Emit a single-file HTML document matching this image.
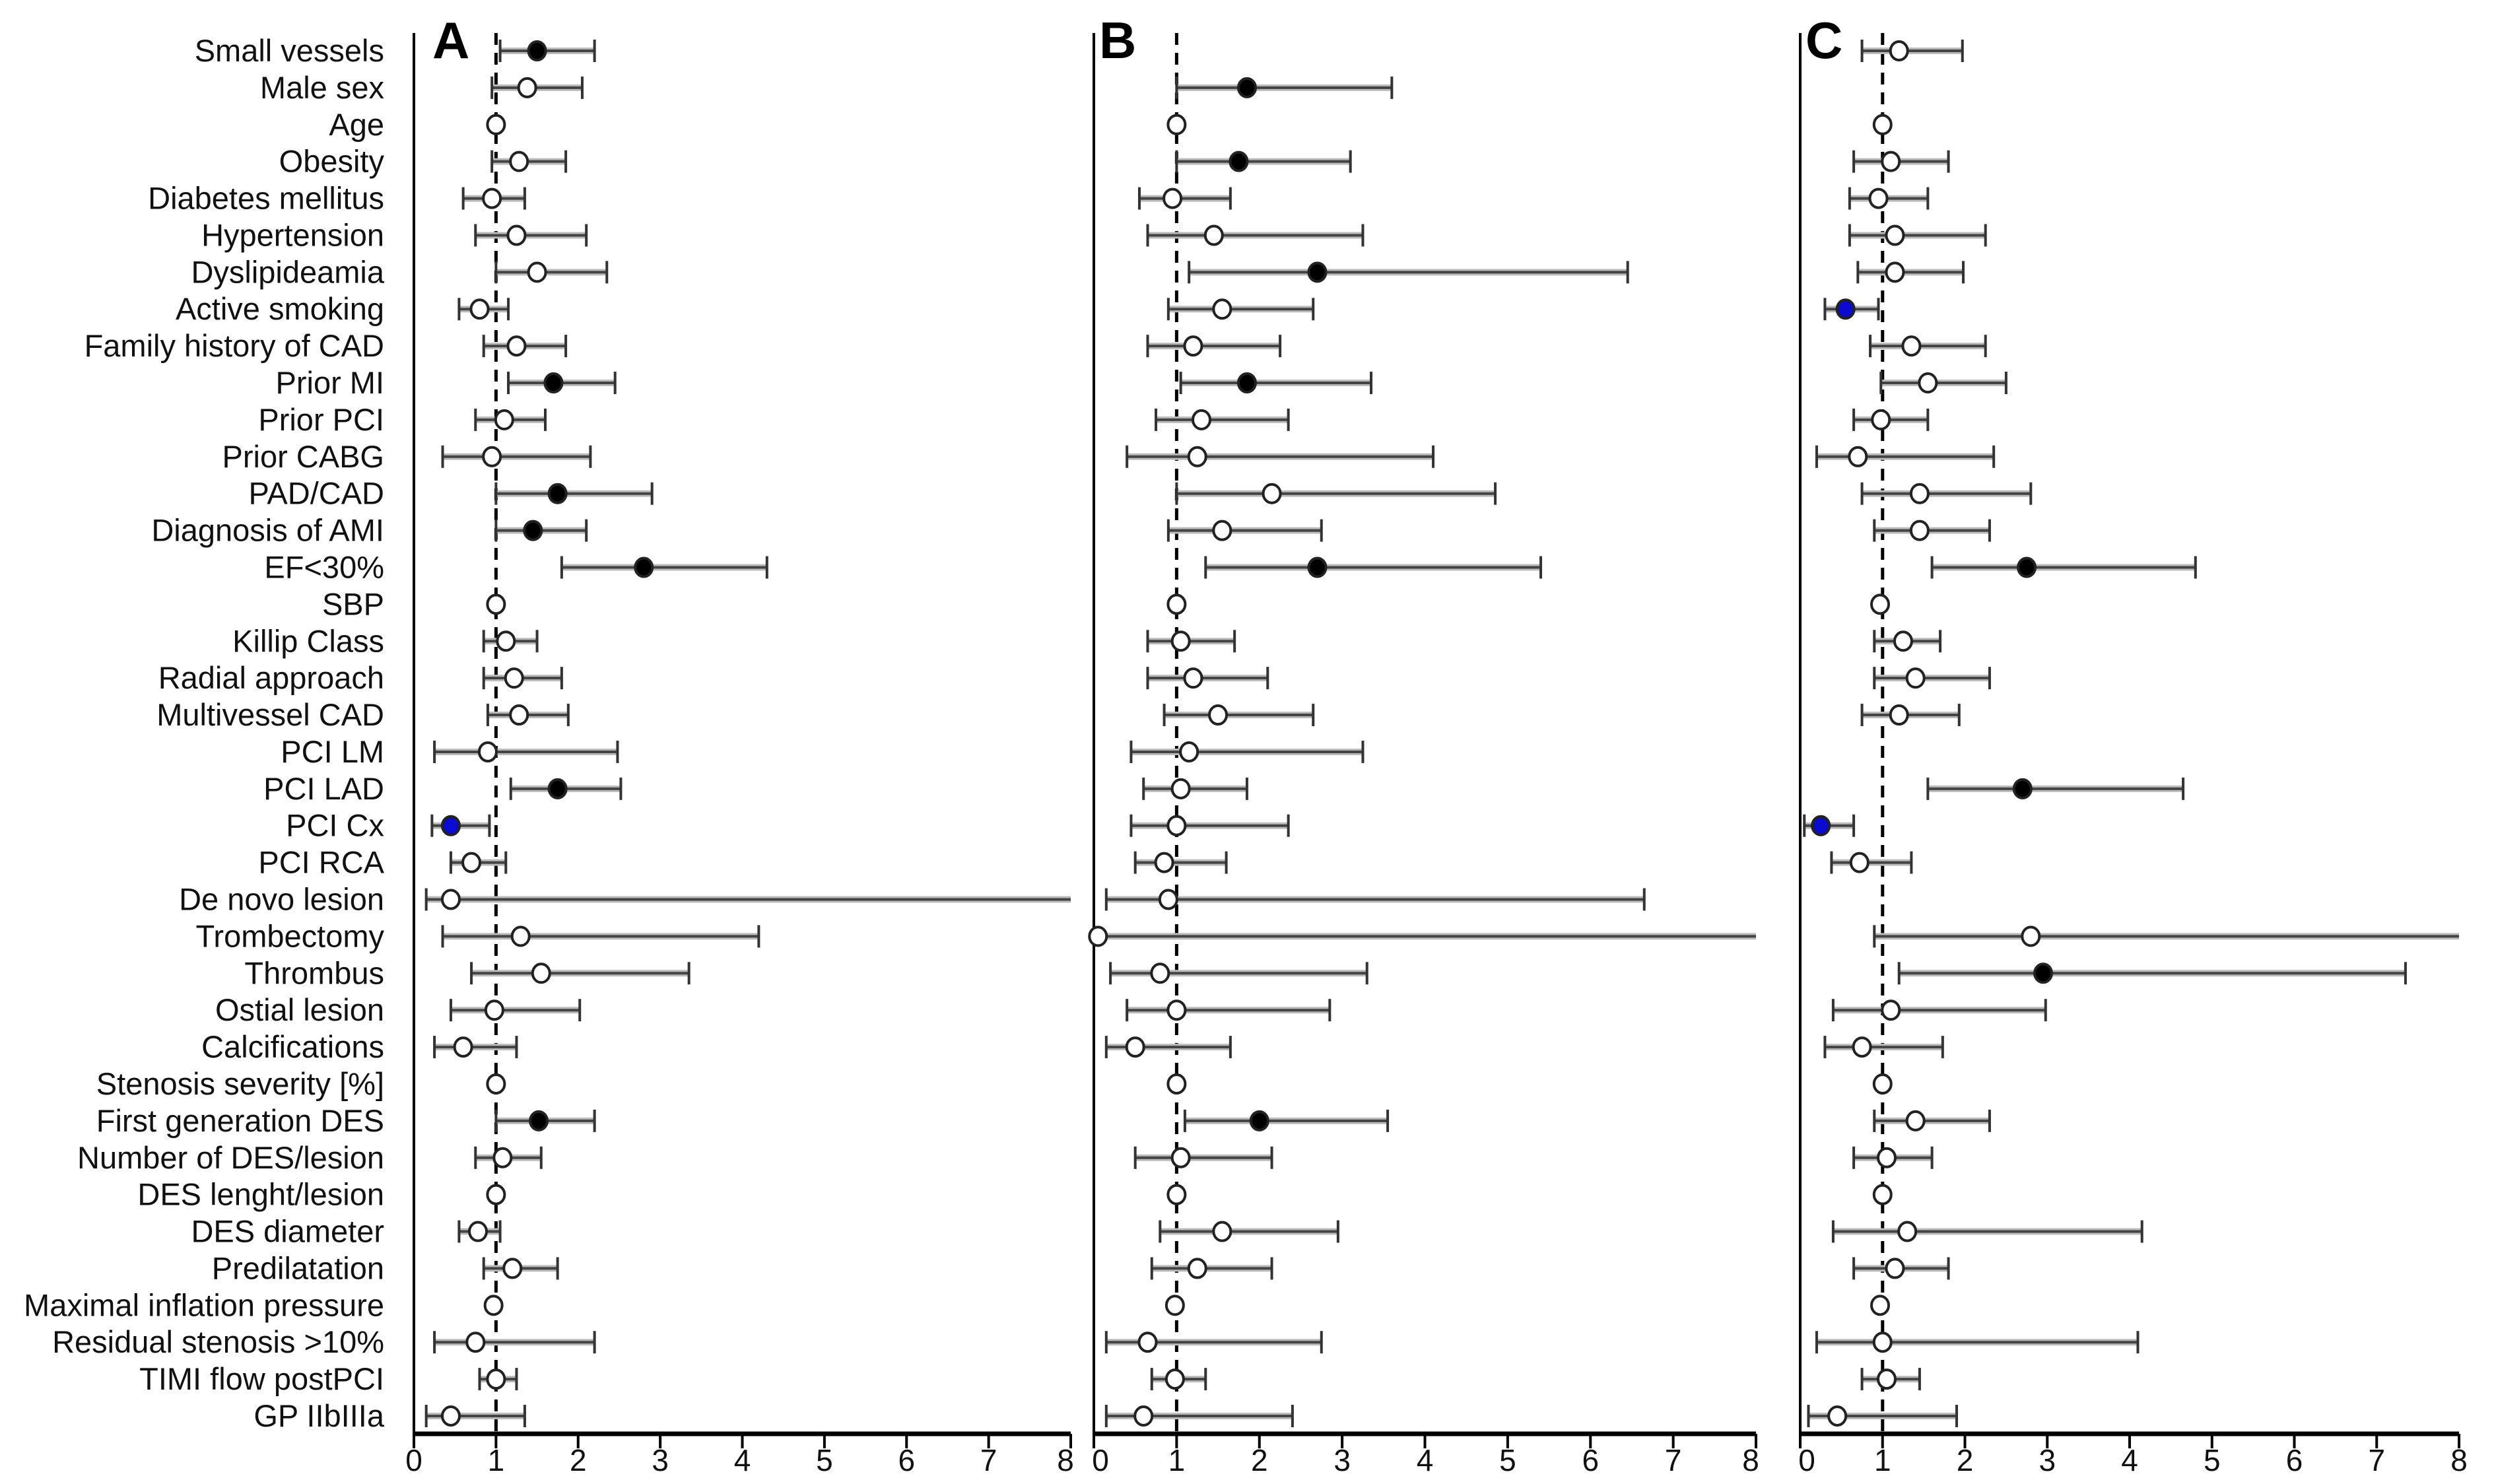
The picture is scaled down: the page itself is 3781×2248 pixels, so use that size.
<!DOCTYPE html>
<html><head><meta charset="utf-8">
<style>
html,body{margin:0;padding:0;background:#fff;}
svg{display:block;}
text{font-family:"Liberation Sans",Arial,sans-serif;}
</style></head>
<body>
<svg id="chart" width="3781" height="2248" viewBox="0 0 3781 2248" xmlns="http://www.w3.org/2000/svg"></svg>
<script>
const categories = ["Small vessels","Male sex","Age","Obesity","Diabetes mellitus","Hypertension","Dyslipideamia","Active smoking","Family history of CAD","Prior MI","Prior PCI","Prior CABG","PAD/CAD","Diagnosis of AMI","EF<30%","SBP","Killip Class","Radial approach","Multivessel CAD","PCI LM","PCI LAD","PCI Cx","PCI RCA","De novo lesion","Trombectomy","Thrombus","Ostial lesion","Calcifications","Stenosis severity [%]","First generation DES","Number of DES/lesion","DES lenght/lesion","DES diameter","Predilatation","Maximal inflation pressure","Residual stenosis >10%","TIMI flow postPCI","GP IIbIIIa"];
// [lower, estimate, upper, type] type: o=open, b=black, u=blue; null = no estimate
const panelA = [[1.05,1.5,2.2,"b"],[0.95,1.38,2.05,"o"],[1,1,1,"o"],[0.95,1.28,1.85,"o"],[0.6,0.95,1.35,"o"],[0.75,1.25,2.1,"o"],[1.0,1.5,2.35,"o"],[0.55,0.8,1.15,"o"],[0.85,1.25,1.85,"o"],[1.15,1.7,2.45,"b"],[0.75,1.1,1.6,"o"],[0.35,0.95,2.15,"o"],[1.0,1.75,2.9,"b"],[1.0,1.45,2.1,"b"],[1.8,2.8,4.3,"b"],[1,1,1,"o"],[0.85,1.12,1.5,"o"],[0.85,1.22,1.8,"o"],[0.9,1.28,1.88,"o"],[0.25,0.9,2.48,"o"],[1.18,1.75,2.52,"b"],[0.22,0.45,0.92,"u"],[0.45,0.7,1.12,"o"],[0.15,0.45,8,"o"],[0.35,1.3,4.2,"o"],[0.7,1.55,3.35,"o"],[0.45,0.98,2.02,"o"],[0.25,0.6,1.25,"o"],[1,1,1,"o"],[1.0,1.52,2.2,"b"],[0.75,1.08,1.55,"o"],[1,1,1,"o"],[0.55,0.78,1.05,"o"],[0.85,1.2,1.75,"o"],[0.97,0.97,0.97,"o"],[0.25,0.75,2.2,"o"],[0.8,1.0,1.25,"o"],[0.15,0.45,1.35,"o"]];
const panelB = [null,[1.0,1.85,3.6,"b"],[1,1,1,"o"],[1.0,1.75,3.1,"b"],[0.55,0.95,1.65,"o"],[0.65,1.45,3.25,"o"],[1.15,2.7,6.45,"b"],[0.9,1.55,2.65,"o"],[0.65,1.2,2.25,"o"],[1.05,1.85,3.35,"b"],[0.75,1.3,2.35,"o"],[0.4,1.25,4.1,"o"],[1.0,2.15,4.85,"o"],[0.9,1.55,2.75,"o"],[1.35,2.7,5.4,"b"],[1,1,1,"o"],[0.65,1.05,1.7,"o"],[0.65,1.2,2.1,"o"],[0.85,1.5,2.65,"o"],[0.45,1.15,3.25,"o"],[0.6,1.05,1.85,"o"],[0.45,1.0,2.35,"o"],[0.5,0.85,1.6,"o"],[0.15,0.9,6.65,"o"],[0.0,0.05,8,"o"],[0.2,0.8,3.3,"o"],[0.4,1.0,2.85,"o"],[0.15,0.5,1.65,"o"],[1,1,1,"o"],[1.1,2.0,3.55,"b"],[0.5,1.05,2.15,"o"],[1,1,1,"o"],[0.8,1.55,2.95,"o"],[0.7,1.25,2.15,"o"],[0.98,0.98,0.98,"o"],[0.15,0.65,2.75,"o"],[0.7,0.98,1.35,"o"],[0.15,0.6,2.4,"o"]];
const panelC = [[0.75,1.2,1.97,"o"],null,[1,1,1,"o"],[0.65,1.1,1.8,"o"],[0.6,0.95,1.55,"o"],[0.6,1.15,2.25,"o"],[0.7,1.15,1.98,"o"],[0.3,0.55,0.95,"u"],[0.85,1.35,2.25,"o"],[0.98,1.55,2.5,"o"],[0.65,0.98,1.55,"o"],[0.2,0.7,2.35,"o"],[0.75,1.45,2.8,"o"],[0.9,1.45,2.3,"o"],[1.6,2.75,4.8,"b"],[0.97,0.97,0.97,"o"],[0.9,1.25,1.7,"o"],[0.9,1.4,2.3,"o"],[0.75,1.2,1.93,"o"],null,[1.55,2.7,4.65,"b"],[0.05,0.25,0.65,"u"],[0.38,0.72,1.35,"o"],null,[0.9,2.8,8,"o"],[1.2,2.95,7.35,"b"],[0.4,1.1,2.98,"o"],[0.3,0.75,1.73,"o"],[1,1,1,"o"],[0.9,1.4,2.3,"o"],[0.65,1.05,1.6,"o"],[1,1,1,"o"],[0.4,1.3,4.15,"o"],[0.65,1.15,1.8,"o"],[0.97,0.97,0.97,"o"],[0.2,1.0,4.1,"o"],[0.75,1.05,1.45,"o"],[0.1,0.45,1.9,"o"]];
const tickLabels = ["0","1","2","3","4","5","6","7","8"];
const panelLetters = ["A","B","C"];

const NS="http://www.w3.org/2000/svg";
const svg=document.getElementById('chart');
function mk(tag,attrs,parent){const e=document.createElementNS(NS,tag);for(const k in attrs)e.setAttribute(k,attrs[k]);(parent||svg).appendChild(e);return e;}
const rowY0=77, rowStep=(2145-77)/(categories.length-1);
function yRow(i){return rowY0+i*rowStep;}
const axisBottom=2172, axisTop=50;
const panels=[{d:panelA,x0:627,x8:1622,lx:690},{d:panelB,x0:1657,x8:2660,lx:1700},{d:panelC,x0:2727,x8:3725,lx:2770}];

categories.forEach((c,i)=>{
  const t=mk('text',{x:582,y:yRow(i)+16,'text-anchor':'end','font-size':47,fill:'#111'});
  t.textContent=c;
  
  
});

panels.forEach((p,pi)=>{
  const g=mk('g',{});
  
  
  const xs=v=>p.x0+(p.x8-p.x0)*v/8;
  const la=mk('line',{x1:p.x0,y1:axisTop,x2:p.x0,y2:axisBottom,stroke:'#000','stroke-width':4},g);
  
  
  const ba=mk('line',{x1:p.x0-2,y1:axisBottom,x2:p.x8,y2:axisBottom,stroke:'#000','stroke-width':7},g);
  
  
  tickLabels.forEach((tl,k)=>{
    const v=+tl;
    const tk=mk('line',{x1:xs(v),y1:axisBottom,x2:xs(v),y2:axisBottom+22,stroke:'#000','stroke-width':4},g);
    
    
    const tt=mk('text',{x:xs(v)+(v===8&&pi<2?-8:0)+(v===0&&pi>0?10:0),y:axisBottom+56,'text-anchor':'middle','font-size':46,fill:'#111'},g);
    tt.textContent=tl;
    
    
  });
  const dl=mk('line',{x1:xs(1),y1:axisTop,x2:xs(1),y2:axisBottom,stroke:'#000','stroke-width':5,'stroke-dasharray':'18 12'},g);
  
  
  const L=mk('text',{x:p.lx-35,y:88,'font-size':78,'font-weight':'bold',fill:'#000'},g);
  L.textContent=panelLetters[pi];
  
  
  p.d.forEach((r,i)=>{
    if(!r)return;
    const y=yRow(i);
    const [lo,est,hi,tp]=r;
    if(hi>lo){
      mk('line',{x1:xs(lo),y1:y,x2:xs(hi),y2:y,stroke:'#bbb','stroke-width':10},g);
      const ln=mk('line',{x1:xs(lo),y1:y,x2:xs(hi),y2:y,stroke:'#444','stroke-width':4},g);
      
      
      [lo,hi].forEach(v=>{
        if(v>=8||v<=0)return;
        const cp=mk('line',{x1:xs(v),y1:y-17,x2:xs(v),y2:y+17,stroke:'#333','stroke-width':4},g);
        
        
      });
    }
    const fill=tp==='b'?'#000':(tp==='u'?'#0a0ad0':'#fff');
    const m=mk('ellipse',{cx:xs(est),cy:y,rx:13,ry:14,fill:fill,stroke:'#222','stroke-width':4},g);
    
    
  });
});
</script>
</body></html>
